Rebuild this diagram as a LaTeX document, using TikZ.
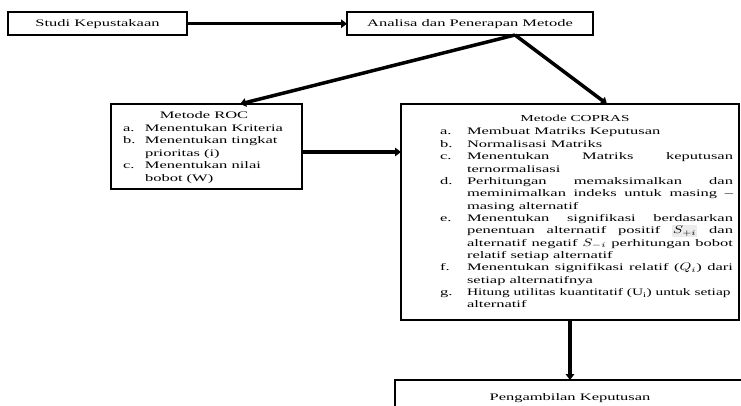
\documentclass[tikz,border=0pt]{standalone}
\usepackage{fontspec}
\setmainfont[FakeStretch=1.65]{Liberation Serif}
\usetikzlibrary{arrows.meta,calc}
\newcommand\justline[1]{\makebox[266pt][s]{#1}}
\newcommand\wmath[1]{\scalebox{1.5}[1.1]{$#1$}}
\tikzset{
  box/.style={draw, line width=2pt, inner sep=0pt, outer sep=0pt, fill=white},
  arr/.style={line width=3.5pt, -{Triangle[length=6pt,width=8.5pt]}},
  txt/.style={inner sep=0pt, outer sep=0pt, font=\fontsize{10}{12.35}\selectfont},
}
\begin{document}
\begin{tikzpicture}[x=1pt,y=-1pt]
\useasboundingbox (0,0) rectangle (741,406);
\clip (0,0) rectangle (741,406);
% boxes
\node[box, txt, minimum width=179pt, minimum height=22.5pt] (studi) at (97.5,23.75) {Studi Kepustakaan};
\node[box, txt, minimum width=246pt, minimum height=22.5pt] (analisa) at (470,23.75) {Analisa dan Penerapan Metode};
\node[box, minimum width=191pt, minimum height=85pt] (roc) at (206.5,146.5) {};
\node[box, minimum width=338pt, minimum height=216pt] (copras) at (570,212) {};
\node[box, txt, minimum width=350pt, minimum height=36pt] (peng) at (570,398) {Pengambilan Keputusan};
% ROC text
\node[txt] (rochead) at (204,115) {Metode ROC};
\node[txt, anchor=base west, font=\fontsize{10}{12.5}\selectfont] (roctext) at (123,131.5) {%
\begin{tabular}[t]{@{}p{22pt}@{}l@{}}
a. & Menentukan Kriteria\\
b. & Menentukan tingkat\\
   & prioritas (i)\\
c. & Menentukan nilai\\
   & bobot (W)
\end{tabular}};
% COPRAS text
\node[txt, font=\fontsize{9.2}{12.35}\selectfont] (coprashead) at (575,118.5) {Metode COPRAS};
\node[txt, anchor=base west] (coprastext) at (440,135) {%
\setlength{\fboxsep}{0.8pt}%
\begin{tabular}[t]{@{}p{27pt}@{}l@{}}
a. & Membuat Matriks Keputusan\\
b. & Normalisasi Matriks\\
c. & \justline{Menentukan Matriks keputusan}\\
   & ternormalisasi\\
d. & \justline{Perhitungan memaksimalkan dan}\\
   & \justline{meminimalkan indeks untuk masing –}\\
   & masing alternatif\\
e. & \justline{Menentukan signifikasi berdasarkan}\\
   & \justline{penentuan alternatif positif \colorbox{gray!15}{\wmath{S_{+i}}} dan}\\
   & \justline{alternatif negatif \wmath{S_{-i}} perhitungan bobot}\\
   & relatif setiap alternatif\\
f. & \justline{Menentukan signifikasi relatif (\wmath{Q_i}) dari}\\
   & setiap alternatifnya\\
g. & \scalebox{0.935}[1]{Hitung utilitas kuantitatif (U\textsubscript{i}) untuk setiap}\\
   & alternatif
\end{tabular}};
% connectors
\coordinate (split) at ($(analisa.south)+(45,0)$);
\draw[arr] (studi) -- (analisa);
\draw[arr] (split) -- ($(roc.north)+(33.5,0)$);
\draw[arr] (split) -- ($(copras.north)+(37,0)$);
\draw[arr] ($(roc.east)+(0,5.5)$) -- ($(copras.west |- roc.east)+(0,5.5)$);
\draw[arr] (copras) -- (peng);
\end{tikzpicture}
\end{document}
